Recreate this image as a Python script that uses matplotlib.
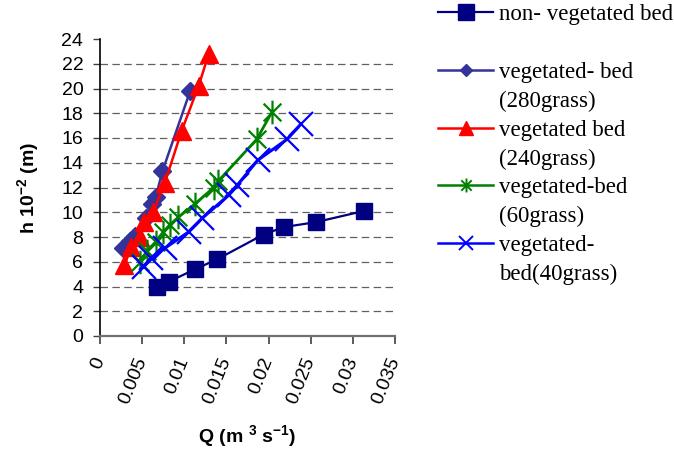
import matplotlib
matplotlib.use("Agg")
import matplotlib.pyplot as plt
from matplotlib.lines import Line2D
from matplotlib.path import Path

# ---- data ----
q_nonveg = [0.0068, 0.0082, 0.0113, 0.0139, 0.0194, 0.0218, 0.0256, 0.0313]
h_nonveg = [4.0, 4.4, 5.4, 6.2, 8.2, 8.8, 9.2, 10.1]

q_280 = [0.0027, 0.0036, 0.0042, 0.0054, 0.0062, 0.0066, 0.0074, 0.0107]
h_280 = [7.1, 7.7, 8.1, 9.5, 10.7, 11.2, 13.3, 19.8]

q_240 = [0.0029, 0.0037, 0.0048, 0.0052, 0.0063, 0.0077, 0.0097, 0.0117, 0.0129]
h_240 = [5.7, 7.2, 8.0, 9.2, 10.0, 12.4, 16.6, 20.2, 22.8]

q_60 = [0.0048, 0.0056, 0.0066, 0.0075, 0.0083, 0.0093, 0.0113, 0.0135, 0.0140, 0.0186, 0.0204]
h_60 = [6.0, 6.9, 7.6, 8.4, 9.0, 9.6, 10.7, 12.0, 12.5, 15.9, 18.1]

q_40 = [0.0052, 0.0060, 0.0077, 0.0105, 0.0121, 0.0153, 0.0163, 0.0187, 0.0222, 0.0238]
h_40 = [5.6, 6.3, 7.1, 8.4, 9.5, 11.4, 12.2, 14.2, 15.9, 17.1]

x_ticks = [0, 0.005, 0.01, 0.015, 0.02, 0.025, 0.03, 0.035]
x_ticklabels = ["0", "0.005", "0.01", "0.015", "0.02", "0.025", "0.03", "0.035"]
y_ticks = list(range(0, 25, 2))

labels = ["non- vegetated bed", "vegetated- bed\n(280grass)", "vegetated bed\n(240grass)",
          "vegetated-bed\n(60grass)", "vegetated-\nbed(40grass)"]

# ---- style ----
plt.rcParams['font.family'] = ['Liberation Sans', 'DejaVu Sans']
plt.rcParams['mathtext.fontset'] = 'custom'
plt.rcParams['mathtext.rm'] = 'Liberation Sans'
plt.rcParams['mathtext.bf'] = 'Liberation Sans:bold'

star = Path([(0, -1), (0, 1), (-0.75, -0.75), (0.75, 0.75), (-0.75, 0.75), (0.75, -0.75)],
            [Path.MOVETO, Path.LINETO, Path.MOVETO, Path.LINETO, Path.MOVETO, Path.LINETO])

fig = plt.figure(figsize=(6.74, 4.5), dpi=100)
ax = fig.add_axes([100 / 674, 1 - 336 / 450, 295 / 674, 297 / 450])

ax.plot(q_nonveg, h_nonveg, color='#000080', lw=1.6, marker='s', ms=12, mec='#000080', mfc='#000080', zorder=3)
ax.plot(q_280, h_280, color='#333399', lw=1.8, marker='D', ms=9, mec='#333399', mfc='#333399', zorder=3)
ax.plot(q_240, h_240, color='#FF0000', lw=1.8, marker='^', ms=13, mec='#FF0000', mfc='#FF0000', zorder=3)
ax.plot(q_60, h_60, color='#008000', lw=2.0, marker=star, ms=17, mew=1.6, mec='#008000', zorder=3)
ax.plot(q_40, h_40, color='#0000FF', lw=2.2, marker='x', ms=17, mew=1.6, mec='#0000FF', zorder=3)

ax.set_xlim(0, 0.035)
ax.set_ylim(0, 24)
ax.set_xticks(x_ticks)
ax.set_xticklabels(x_ticklabels, rotation=68, ha='right', va='center', rotation_mode='anchor')
ax.set_yticks(y_ticks)
ax.tick_params(axis='x', length=6, width=1.2, color='#404040', labelsize=14, pad=10)
ax.tick_params(axis='y', length=5, width=1.0, color='#404040', labelsize=14, pad=7)

for s in ['top', 'right']:
    ax.spines[s].set_visible(False)
ax.spines['left'].set_color('black')
ax.spines['left'].set_linewidth(1.2)
ax.spines['bottom'].set_color('#707070')
ax.spines['bottom'].set_linewidth(1.6)

ax.yaxis.grid(True, color='#606060', linestyle=(0, (6, 3.5)), linewidth=0.9)
ax.set_axisbelow(True)
ticks = ax.yaxis.get_major_ticks()
ticks[0].gridline.set_visible(False)
ticks[-1].gridline.set_visible(False)

ax.set_ylabel(r"h 10$^{\mathbf{-2}}$ (m)", fontsize=14, fontweight='bold')
ax.yaxis.set_label_coords(-0.198, 0.5)
ax.set_xlabel(r"Q (m $^{\mathbf{3}}$ s$^{\mathbf{-1}}$)", fontsize=14, fontweight='bold')
ax.xaxis.set_label_coords(0.5, -0.295)

# ---- legend ----
blank = Line2D([], [], color='none')
h1 = Line2D([], [], color='#000080', lw=1.6, marker='s', ms=11, mfc='#000080', mec='#000080')
h2 = Line2D([], [], color='#333399', lw=1.8, marker='D', ms=6.5, mfc='#333399', mec='#333399')
h3 = Line2D([], [], color='#FF0000', lw=1.8, marker='^', ms=10, mfc='#FF0000', mec='#FF0000')
h4 = Line2D([], [], color='#008000', lw=1.8, marker=star, ms=10, mew=1.4, mec='#008000')
h5 = Line2D([], [], color='#0000FF', lw=1.8, marker='x', ms=10, mew=1.4, mec='#0000FF')
handles = [h1, blank, h2, blank, h3, blank, h4, blank, h5, blank]
rows = []
rows.append(labels[0]); rows.append(" ")
for lab in labels[1:]:
    a, b = lab.split("\n")
    rows.append(a); rows.append(b)
leg = fig.legend(handles, rows, loc='upper left', bbox_to_anchor=(438 / 674, 1 - 4 / 450),
                 frameon=False, borderpad=0, borderaxespad=0, handlelength=2.4, handletextpad=0.27,
                 labelspacing=0.34, prop={'family': 'Liberation Serif', 'size': 16.5})

fig.savefig("out.png", dpi=100)
